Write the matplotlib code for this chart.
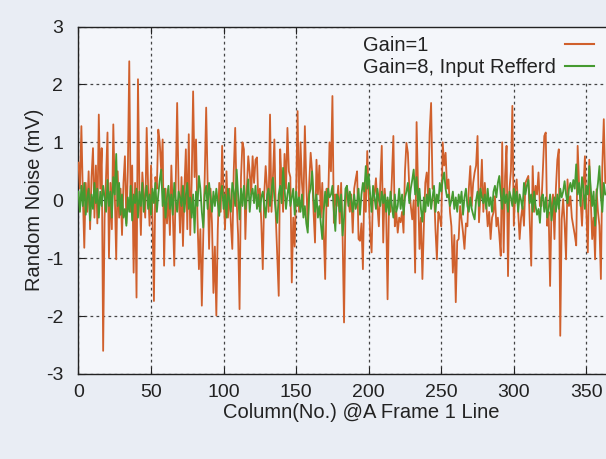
import numpy as np
import matplotlib
matplotlib.use("Agg")
import matplotlib.pyplot as plt
from matplotlib.patches import Rectangle

plt.rcParams['font.family'] = ['Liberation Sans', 'DejaVu Sans']
plt.rcParams['axes.unicode_minus'] = False

# Random noise per column, gain = 1 (mV)
gain1 = [
    0.65, 0.2, 1.28, 0.1, -0.82, 0.3, -0.2, 0.5, -0.5, 0.4,
    0.9, -0.3, 0.6, -0.4, 1.48, 0.2, 0.9, -2.6, -0.3, 0.4,
    1.17, -0.99, 0.3, -0.5, 1.31, 0.1, -1.02, 0.5, -0.3, 0.2,
    -0.6, 0.3, 0.76, -0.4, 0.5, 2.4, -0.2, 0.6, -1.25, 0.3,
    -1.68, 2.09, 0.2, -0.6, 0.48, 0.1, -0.3, 1.25, 0.2, -0.44,
    0.6, -0.3, -1.74, 0.4, 0.2, 1.22, 1.0, 0.5, 1.05, -1.13,
    0.2, -0.4, 0.1, -0.6, 0.6, -0.2, -1.13, 0.3, 1.68, 0.2,
    -0.56, 0.4, -0.79, 0.2, 0.88, -0.5, 1.14, -0.6, 0.3, 1.88,
    0.4, 1.05, -0.3, -1.19, -0.5, -1.82, -0.6, 0.4, 1.6, 0.3,
    -0.84, 0.2, -0.4, -1.6, -0.8, -1.99, -0.5, 0.3, -0.2, 0.94,
    0.1, -0.5, 0.5, -0.3, 0.2, -0.4, -0.84, 0.5, 1.25, 0.0,
    -0.6, -1.88, 0.4, 1.0, 0.88, -0.67, 0.2, 0.76, 0.48, 0.1,
    0.76, 0.3, 0.7, 0.74, -0.1, 0.2, -0.4, -1.19, 0.1, 0.59,
    0.2, -0.2, 1.48, -0.2, 0.4, 1.05, -0.3, -1.0, -1.65, 0.88,
    0.3, -0.2, 0.8, 0.2, 1.25, 0.5, 0.4, -1.42, -0.3, -0.8,
    0.2, 1.54, -0.2, 1.0, 0.3, -0.1, 1.28, 0.3, -0.45, 0.3,
    0.82, 0.5, -0.2, -0.73, 0.7, 0.1, 0.6, -0.3, 0.3, -0.5,
    -1.36, 0.2, -0.1, 1.0, 0.5, 1.8, -0.39, 0.1, -0.1, 0.25,
    -0.4, 0.3, -0.6, -2.11, -0.1, 0.25, 0.0, -0.2, 0.1, -0.56,
    0.2, 0.36, 0.5, -0.67, -0.7, -0.4, -1.19, 0.3, -0.2, 0.85,
    0.1, -0.56, -0.9, 0.2, 0.1, 0.38, -0.1, -0.45, 0.3, 0.94,
    -0.73, 0.2, -0.16, -1.71, 0.0, -0.2, 0.4, 1.11, -0.45, -0.2,
    -0.56, -0.3, -0.38, -0.2, -0.56, 0.5, 0.99, 0.82, 0.2, -0.1,
    -0.33, 0.0, -1.25, 1.35, 0.2, -0.84, -0.3, -1.36, -0.45, 0.3,
    0.48, 0.0, 1.17, 1.68, 0.2, 0.19, -0.5, -1.02, -0.2, -0.3,
    -0.45, 1.0, 0.6, 0.82, 0.2, 0.36, -0.2, -0.45, -1.25, -0.6,
    -1.76, -0.7, -0.67, -0.1, -0.33, -0.56, -0.84, -0.4, -0.45, 0.2,
    0.59, -0.1, 0.3, 0.48, 0.6, 1.11, -0.38, 0.1, 0.7, -0.2,
    0.3, -0.05, -0.45, -0.2, -0.67, -0.3, -0.21, 0.07, -0.45, -0.3,
    -0.6, -0.96, 1.0, -0.9, 0.42, 0.94, -1.31, 0.19, 0.5, 1.63,
    -0.44, 0.2, 0.36, -0.2, -0.67, -0.3, -0.1, -0.44, 0.3, 0.36,
    0.42, -0.4, -1.13, 0.59, -0.2, 0.25, 0.1, 0.48, -0.1, -0.1,
    0.5, 1.11, 1.17, -0.44, -0.2, -1.48, -0.1, 0.1, -0.67, 0.2,
    0.7, 0.88, -2.34, -0.33, 0.02, -0.4, -1.02, 0.36, -0.1, 0.07,
    -0.3, -0.45, -0.6, -0.78, 0.94, 0.25, 0.0, -0.44, 0.2, 0.76,
    -0.2, -0.9, 0.7, 0.0, -0.67, -0.3, -1.02, 0.19, -0.2, -0.44,
    -1.36, 0.59, 1.4, 0.3,
]

# Random noise per column, gain = 8, referred to input (mV)
gain8 = [
    0.15, -0.2, 0.25, -0.1, 0.3, -0.25, 0.05, 0.2, -0.35, 0.1,
    -0.15, 0.3, -0.05, 0.2, -0.3, 0.15, -0.1, 0.25, 0.05, -0.2,
    0.35, -0.1, 0.15, -0.3, 0.4, 0.1, 0.8, -0.1, 0.3, -0.25,
    0.1, -0.3, -0.15, -0.44, 0.05, -0.2, 0.25, -0.35, 0.1, -0.05,
    0.2, -0.3, 0.15, -0.1, 0.3, -0.2, 0.05, 0.25, -0.15, 0.1,
    -0.25, 0.2, -0.05, 0.3, -0.2, 0.1, 0.35, 0.53, -0.1, 0.2,
    -0.3, 0.05, 0.25, -0.15, 0.1, -0.25, 0.3, 0.0, -0.2, 0.15,
    0.05, -0.1, 0.25, -0.2, 0.1, 0.3, -0.15, 0.05, -0.3, 0.1,
    -0.56, 0.15, -0.1, 0.42, 0.2, -0.2, -0.47, 0.1, 0.25, -0.15,
    0.3, 0.05, -0.2, 0.15, -0.1, 0.2, -0.05, -0.27, 0.1, 0.25,
    -0.15, 0.1, -0.3, 0.2, 0.0, -0.2, 0.3, 0.15, -0.1, 0.53,
    0.1, -0.33, 0.2, -0.1, 0.25, -0.15, 0.05, 0.36, -0.2, 0.1,
    0.2, -0.05, 0.25, -0.15, 0.1, -0.2, 0.05, 0.15, -0.1, -0.3,
    0.1, 0.2, -0.1, 0.15, 0.39, 0.05, -0.2, -0.39, 0.1, 0.25,
    -0.05, 0.56, 0.2, -0.15, 0.1, 0.3, -0.1, 0.05, 0.2, -0.25,
    0.15, -0.1, 0.05, -0.2, 0.1, -0.3, -0.1, -0.4, -0.56, 0.1,
    0.2, 0.5, 0.05, -0.2, 0.1, -0.3, -0.1, -0.4, -0.67, -0.2,
    0.15, -0.1, 0.2, 0.05, 0.1, 0.25, -0.2, -0.53, 0.1, 0.05,
    -0.2, 0.1, -0.61, -0.3, 0.2, 0.25, -0.1, 0.15, 0.0, -0.2,
    0.1, -0.15, -0.05, 0.2, -0.25, 0.1, 0.3, 0.15, 0.59, 0.2,
    0.45, 0.1, -0.2, 0.25, 0.05, -0.15, 0.2, 0.0, -0.1, 0.15,
    -0.05, 0.1, -0.2, 0.05, -0.25, 0.15, -0.1, -0.3, 0.1, -0.2,
    -0.1, 0.2, -0.15, 0.1, -0.25, 0.05, 0.15, 0.3, -0.05, 0.2,
    0.35, 0.53, 0.1, 0.4, -0.1, 0.2, -0.15, -0.37, 0.05, -0.2,
    0.1, -0.1, 0.2, -0.15, 0.05, 0.25, -0.2, 0.1, -0.05, 0.3,
    0.15, 0.35, 0.48, 0.2, 0.05, 0.1, -0.1, 0.0, 0.15, -0.15,
    0.05, -0.2, 0.1, -0.05, 0.15, -0.25, 0.05, 0.2, -0.1, -0.2,
    0.05, -0.15, -0.25, -0.33, 0.0, 0.15, -0.1, 0.2, 0.05, -0.05,
    0.1, -0.15, 0.2, -0.1, 0.05, -0.2, 0.15, 0.25, 0.05, 0.3,
    0.42, 0.1, -0.15, 0.2, -0.05, 0.1, -0.2, 0.15, 0.05, -0.1,
    0.2, -0.05, 0.15, -0.2, 0.1, 0.0, -0.15, 0.3, 0.1, 0.25,
    0.35, -0.05, 0.1, -0.2, 0.15, -0.1, -0.25, -0.15, -0.39, 0.05,
    0.1, -0.2, 0.05, -0.3, -0.15, 0.1, -0.35, -0.1, 0.05, -0.2,
    0.1, -0.15, 0.2, 0.05, 0.15, 0.33, 0.1, -0.05, 0.2, 0.3,
    0.15, 0.35, 0.2, 0.62, 0.1, 0.3, -0.1, 0.4, 0.2, -0.15,
    0.25, 0.1, 0.59, 0.2, -0.1, 0.15, -0.44, 0.1, 0.3, 0.59,
    0.05, -0.2, 0.3, 0.1,
]

labels = ['Gain=1', 'Gain=8, Input Refferd']
colors = ['#d0602c', '#459a30']

columns = np.arange(len(gain1))

x_ticks = [0, 50, 100, 150, 200, 250, 300, 350]
y_ticks = [-3, -2, -1, 0, 1, 2, 3]

TXT = '#222222'
PLOT_BG = '#f4f6fa'

fig = plt.figure(figsize=(6.06, 4.59), dpi=100, facecolor='#e9edf4')
# axes runs past the right edge of the sheet
ax = fig.add_axes([0.1295, 0.1852, 0.886, 0.757], facecolor=PLOT_BG)

for series, lab, col, z in zip([gain1, gain8], labels, colors, [3, 4]):
    ax.plot(columns, series, color=col, lw=1.3, label=lab, zorder=z)

ax.set_xlim(0, 370)
ax.set_ylim(-3, 3)
ax.set_xticks(x_ticks)
ax.set_yticks(y_ticks)
ax.tick_params(direction='in', top=True, right=True, length=5, width=0.8,
               labelsize=14, colors=TXT)
ax.tick_params(axis='x', pad=7)
ax.tick_params(axis='y', pad=11)
ax.grid(True, color='#444444', lw=0.9, linestyle=(0, (2.2, 2.6)))
for s in ax.spines.values():
    s.set_color(TXT)
    s.set_linewidth(1.0)

ax.set_xlabel('Column(No.) @A Frame 1 Line', fontsize=14.5, color=TXT)
ax.set_ylabel('Random Noise (mV)', fontsize=14.5, color=TXT)
ax.xaxis.set_label_coords(0.527, -0.083)
ax.yaxis.set_label_coords(-0.064, 0.5)

# key area: blank out the vertical grid behind the key
key_bg = Rectangle((0.515, 0.843), 0.485, 0.157, transform=ax.transAxes,
                   facecolor=PLOT_BG, edgecolor='none', zorder=2)
ax.add_patch(key_bg)

# key: label text on the left, line sample on the right
key_rows_y = [0.945, 0.883]
for yk, lab, col in zip(key_rows_y, labels, colors):
    ax.text(0.529, yk, lab, transform=ax.transAxes, fontsize=14.5, color=TXT,
            ha='left', va='center', zorder=6)
    ax.plot([0.906, 0.961], [yk + 0.004, yk + 0.004], transform=ax.transAxes,
            color=col, lw=1.5, zorder=6, clip_on=False)

fig.savefig('out.png', dpi=100, facecolor=fig.get_facecolor())
